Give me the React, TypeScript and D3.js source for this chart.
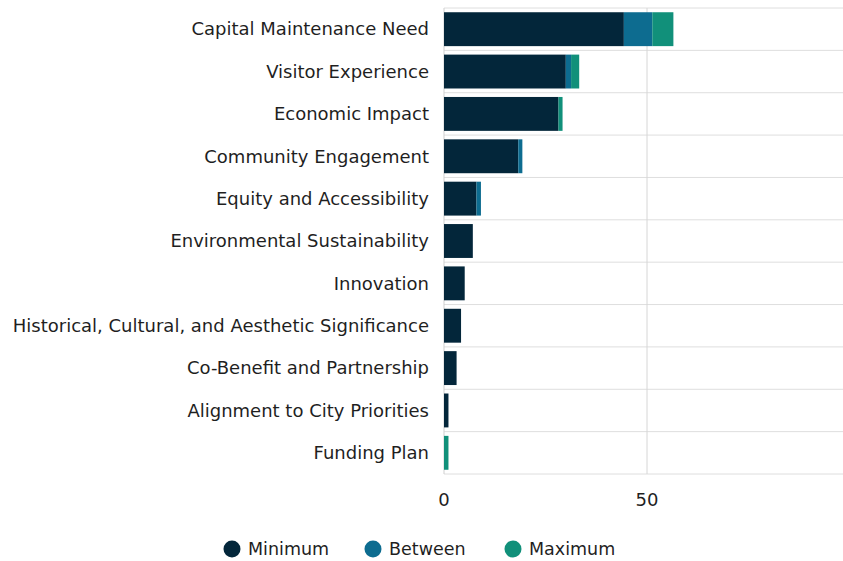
import React from "react";
import * as d3 from "d3";

const categories = [
  "Capital Maintenance Need",
  "Visitor Experience",
  "Economic Impact",
  "Community Engagement",
  "Equity and Accessibility",
  "Environmental Sustainability",
  "Innovation",
  "Historical, Cultural, and Aesthetic Significance",
  "Co-Benefit and Partnership",
  "Alignment to City Priorities",
  "Funding Plan",
];
const minimum = [44.3, 30.0, 28.2, 18.3, 8.0, 7.1, 5.1, 4.2, 3.1, 1.1, 0];
const between = [7.0, 1.3, 0, 1.0, 1.1, 0, 0, 0, 0, 0, 0];
const maximum = [5.2, 2.0, 1.0, 0, 0, 0, 0, 0, 0, 0, 1.1];

const seriesNames = ["Minimum", "Between", "Maximum"];
const colors = ["#03263a", "#0d6c90", "#11907a"];
const xTicks = [0, 50];

const W = 843;
const H = 561;
const margin = { top: 8, right: 0, bottom: 87, left: 444 };
const font = "'DejaVu Sans', Verdana, sans-serif";
const fs = 18;

const App = () => {
  const rows = categories.map((c, i) => ({
    category: c,
    Minimum: minimum[i],
    Between: between[i],
    Maximum: maximum[i],
  }));

  const stacked = d3.stack<any>().keys(seriesNames)(rows);

  const x = d3.scaleLinear().domain([0, 100]).range([margin.left, margin.left + 406]);
  const y = d3
    .scaleBand<string>()
    .domain(categories)
    .range([margin.top, H - margin.bottom])
    .paddingInner(0.2)
    .paddingOuter(0.1);

  const step = y.step();
  const top = margin.top;
  const bottom = H - margin.bottom;

  return (
    <svg
      width={W}
      height={H}
      style={{ position: "absolute", left: 0, top: 0, background: "#fff" }}
      fontFamily={font}
    >
      {/* horizontal row separators */}
      {d3.range(categories.length + 1).map((i) => (
        <line
          key={"h" + i}
          x1={margin.left}
          x2={W}
          y1={top + i * step}
          y2={top + i * step}
          stroke="#dedede"
          strokeWidth={1}
        />
      ))}

      {/* vertical grid */}
      {xTicks.map((t) => (
        <line
          key={"v" + t}
          x1={x(t)}
          x2={x(t)}
          y1={top}
          y2={bottom}
          stroke={t === 0 ? "#cfcfcf" : "#d6d6d6"}
          strokeWidth={1}
        />
      ))}

      {/* bars */}
      {stacked.map((s, si) => (
        <g key={s.key} fill={colors[si]}>
          {s.map((d, i) =>
            d[1] - d[0] > 0 ? (
              <rect
                key={i}
                x={x(d[0])}
                y={y(categories[i])}
                width={x(d[1]) - x(d[0])}
                height={y.bandwidth()}
              />
            ) : null
          )}
        </g>
      ))}

      {/* category labels */}
      {categories.map((c) => (
        <text
          key={c}
          x={margin.left - 15}
          y={(y(c) || 0) + y.bandwidth() / 2}
          dy="0.35em"
          textAnchor="end"
          fontSize={fs}
          fill="#1f1f1f"
        >
          {c}
        </text>
      ))}

      {/* x tick labels */}
      {xTicks.map((t) => (
        <text
          key={"t" + t}
          x={x(t)}
          y={500}
          dy="0.35em"
          textAnchor="middle"
          fontSize={fs}
          fill="#1f1f1f"
        >
          {t}
        </text>
      ))}

      {/* legend */}
      {seriesNames.map((n, i) => {
        const lx = [232, 373, 513][i];
        return (
          <g key={n} transform={`translate(${lx},549)`}>
            <circle r={8.5} fill={colors[i]} />
            <text x={16} dy="0.35em" fontSize={17.5} fill="#1f1f1f">
              {n}
            </text>
          </g>
        );
      })}
    </svg>
  );
};

export default App;
